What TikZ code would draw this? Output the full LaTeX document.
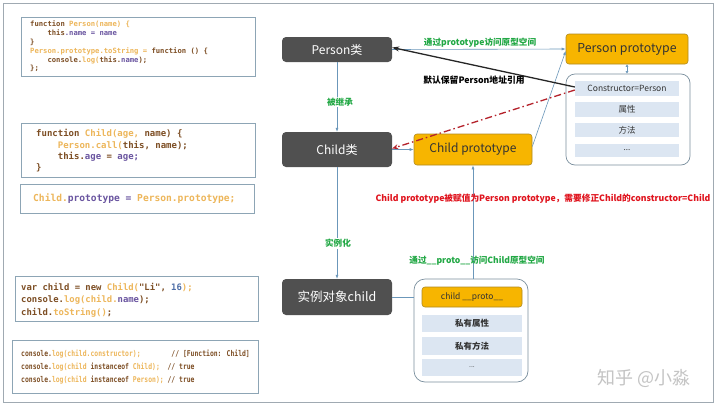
\documentclass[tikz,border=0pt]{standalone}
\usepackage{fontspec}
\usetikzlibrary{arrows.meta,calc}
\newfontfamily\cjk{Noto Sans CJK SC}
\newfontfamily\codefont{DejaVu Sans Mono}
\newfontfamily\codecond[FakeStretch=0.8]{DejaVu Sans Mono}
\definecolor{kw}{HTML}{7D4E24}
\definecolor{fn}{HTML}{EDB65A}
\definecolor{pr}{HTML}{6A55A0}
\definecolor{nm}{HTML}{4F6FA8}
\definecolor{codeborder}{HTML}{8DA5B5}
\definecolor{framec}{HTML}{A0AAB2}
\definecolor{darkc}{HTML}{505050}
\definecolor{orangec}{HTML}{F7B500}
\definecolor{orangeb}{HTML}{B08A20}
\definecolor{itembg}{HTML}{DCE6F2}
\definecolor{linkc}{HTML}{6B97BA}
\definecolor{glabel}{HTML}{22A845}
\definecolor{rlabel}{HTML}{E0141E}
\definecolor{redline}{HTML}{B5222B}
\definecolor{contb}{HTML}{7A8F9E}
\definecolor{wmark}{HTML}{C4C4C4}
\newcommand\kwc[1]{\textcolor{kw}{#1}}
\newcommand\fnc[1]{\textcolor{fn}{#1}}
\newcommand\prc[1]{\textcolor{pr}{#1}}
\newcommand\nmc[1]{\textcolor{nm}{#1}}
\tikzset{
  codebox/.style={draw=codeborder, line width=0.8pt, fill=white, inner sep=0pt},
  codetext/.style={anchor=west, align=left, inner sep=0pt},
  darkbox/.style={fill=darkc, rounded corners=4pt, text=white, inner sep=0pt,
    font=\cjk\fontsize{12}{14}\selectfont},
  orangebox/.style={fill=orangec, draw=orangeb, line width=0.6pt, rounded corners=3pt,
    text=black!80, inner sep=0pt},
  container/.style={draw=contb, line width=0.7pt, fill=white, rounded corners=9pt, inner sep=0pt},
  itembox/.style={fill=itembg, inner sep=0pt, text=black!80, minimum width=100pt},
  link/.style={draw=linkc, line width=0.6pt, -{Latex[length=4pt,width=3pt]}},
  plainlink/.style={draw=linkc, line width=0.6pt},
  blackarrow/.style={draw=black!85, line width=1.3pt, -{Stealth[length=7pt,width=5pt]}},
  redarrow/.style={draw=redline, line width=1.3pt, dash pattern=on 7pt off 3pt on 1.5pt off 3pt,
    -{Stealth[length=6pt,width=5pt]}},
  glab/.style={text=glabel, font=\cjk\bfseries\fontsize{8.6}{10}\selectfont, inner sep=1pt},
}
\begin{document}
\begin{tikzpicture}[x=1pt,y=-1pt]
\useasboundingbox (0,0) rectangle (720,405);
\fill[white] (0,0) rectangle (720,405);
\draw[framec, line width=1pt] (3,3) rectangle (713,402);

% code boxes
\node[codebox, minimum width=234pt, minimum height=59pt] (cb1) at (138,46.5) {};
\node[codetext, font=\codefont\bfseries\fontsize{7.2}{8.8}\selectfont] (ct1) at (30,46.5) {%
\kwc{function} \fnc{Person(name) \{}\\
~~~~\kwc{this}\prc{.name} \prc{=} \prc{name}\\
\kwc{\}}\\
\fnc{Person.prototype.toString} \fnc{=} \kwc{function} \kwc{()} \kwc{\{}\\
~~~~\kwc{console.}\fnc{log(}\kwc{this.}\prc{name}\kwc{);}\\
\kwc{\};}};

\node[codebox, minimum width=234pt, minimum height=54pt] (cb2) at (138,150) {};
\node[codetext, font=\codefont\bfseries\fontsize{9}{11.3}\selectfont] (ct2) at (36,151) {%
\kwc{function} \fnc{Child(age,} \kwc{name)} \kwc{\{}\\
~~~~\fnc{Person.call(}\kwc{this,} \kwc{name);}\\
~~~~\kwc{this.}\prc{age} \kwc{=} \prc{age;}\\
\kwc{\}}};

\node[codebox, minimum width=234pt, minimum height=29pt] (cb3) at (137,198.5) {};
\node[codetext, font=\codefont\bfseries\fontsize{9.6}{11}\selectfont] (ct3) at (33,199) {%
\fnc{Child.}\prc{prototype} \prc{=} \fnc{Person.prototype;}};

\node[codebox, minimum width=243pt, minimum height=45pt] (cb4) at (136.5,298.5) {};
\node[codetext, font=\codefont\bfseries\fontsize{8.9}{12.3}\selectfont] (ct4) at (21,300) {%
\kwc{var} \kwc{child} \kwc{=} \kwc{new} \fnc{Child(}\kwc{"Li",} \nmc{16}\fnc{);}\\
\kwc{console.}\fnc{log(child.}\prc{name}\kwc{);}\\
\kwc{child.}\fnc{toString()}\kwc{;}};

\node[codebox, minimum width=246pt, minimum height=53pt] (cb5) at (135,366.5) {};
\node[codetext, font=\codecond\bfseries\fontsize{8}{13}\selectfont] (ct5) at (21,367) {%
\kwc{console.}\fnc{log(child.constructor);}~~~~~~~~\kwc{//} \kwc{[Function:} \kwc{Child]}\\
\kwc{console.}\fnc{log(child} \kwc{instanceof} \fnc{Child);}~~\kwc{//} \kwc{true}\\
\kwc{console.}\fnc{log(child} \kwc{instanceof} \fnc{Person);} \kwc{//} \kwc{true}};

% dark class boxes
\node[darkbox, minimum width=110pt, minimum height=25pt] (pc) at (337,49.5) {Person类};
\node[darkbox, minimum width=110pt, minimum height=35pt] (cc) at (337,149.5) {Child类};
\node[darkbox, minimum width=110pt, minimum height=36pt, font=\cjk\fontsize{12.5}{14}\selectfont] (ic) at (337,297) {实例对象child};

% prototypes
\node[orangebox, minimum width=118pt, minimum height=31pt, font=\cjk\fontsize{12}{14}\selectfont] (cproto) at (473,149.5) {Child prototype};
\node[orangebox, minimum width=122pt, minimum height=30pt, font=\cjk\fontsize{12.3}{14}\selectfont] (pproto) at (627,49) {Person prototype};

% right container
\node[container, minimum width=124pt, minimum height=91pt] (rc) at (628,119.5) {};
\node[itembox, minimum width=104pt, minimum height=15pt, font=\cjk\fontsize{8.5}{10}\selectfont] (it1) at (627,88.5) {Constructor=Person};
\node[itembox, minimum width=104pt, minimum height=15pt, font=\cjk\fontsize{8.5}{10}\selectfont] (it2) at (627,109.5) {属性};
\node[itembox, minimum width=104pt, minimum height=14pt, font=\cjk\fontsize{8.5}{10}\selectfont] (it3) at (627,130) {方法};
\node[itembox, minimum width=104pt, minimum height=13pt, font=\cjk\fontsize{8}{10}\selectfont] (it4) at (627,150.5) {...};

% bottom container
\node[container, minimum width=114pt, minimum height=103pt, rounded corners=11pt] (bc) at (471,330.5) {};
\node[orangebox, minimum width=100pt, minimum height=20pt, font=\cjk\fontsize{8.5}{10}\selectfont] (bp) at (472,297) {child \_\_proto\_\_};
\node[itembox, minimum height=17pt, font=\cjk\bfseries\fontsize{8.5}{10}\selectfont] (bi1) at (472,323.5) {私有属性};
\node[itembox, minimum height=18pt, font=\cjk\bfseries\fontsize{8.5}{10}\selectfont] (bi2) at (472,346) {私有方法};
\node[itembox, minimum height=17pt, font=\cjk\fontsize{7}{10}\selectfont] (bi3) at (472,367.5) {...};

% connectors
\draw[link] (pc) -- (cc);
\draw[link] (cc) -- (ic);
\draw[link] (cc.east) -- (cproto.west);
\draw[link] (pc.east) -- (pproto.west);
\draw[link] ($(cproto.east)+(0,-3)$) -- ($(pproto.west)+(0,2)$);
\draw[link] (bc.north -| cproto.south) -- (cproto.south);
\draw[plainlink] (ic.east) -- (bc.west |- ic.east);
\draw[draw=linkc, line width=0.8pt, {Latex[length=2.5pt,width=3pt]}-{Latex[length=2.5pt,width=3pt]}] (pproto.south) -- (pproto.south |- rc.north);
\draw[blackarrow] ($(it1.west)+(0,-1.5)$) -- ($(pc.east)+(0,-2)$);
\draw[redarrow] ($(it1.west)+(0,1.5)$) -- ($(cc.east)+(0,-1)$);

% labels
\node[glab, fill=white] (l1) at (340,102) {被继承};
\node[glab, fill=white] (l2) at (338,243.5) {实例化};
\node[glab] (l3) at (480,43) {通过prototype访问原型空间};
\node[glab] (l4) at (477,261) {通过\_\_proto\_\_访问Child原型空间};
\node[text=black, font=\cjk\bfseries\fontsize{8.8}{10}\selectfont, inner sep=1pt] (l5) at (474,80) {默认保留Person地址引用};
\node[text=rlabel, font=\cjk\bfseries\fontsize{8.7}{10}\selectfont, inner sep=1pt] (l6) at (543,199) {Child prototype被赋值为Person prototype，需要修正Child的constructor=Child};

% watermark
\node[text=wmark, font=\cjk\fontsize{18}{20}\selectfont, inner sep=0pt] (wm) at (644,378) {知乎 @小淼};
\end{tikzpicture}
\end{document}
